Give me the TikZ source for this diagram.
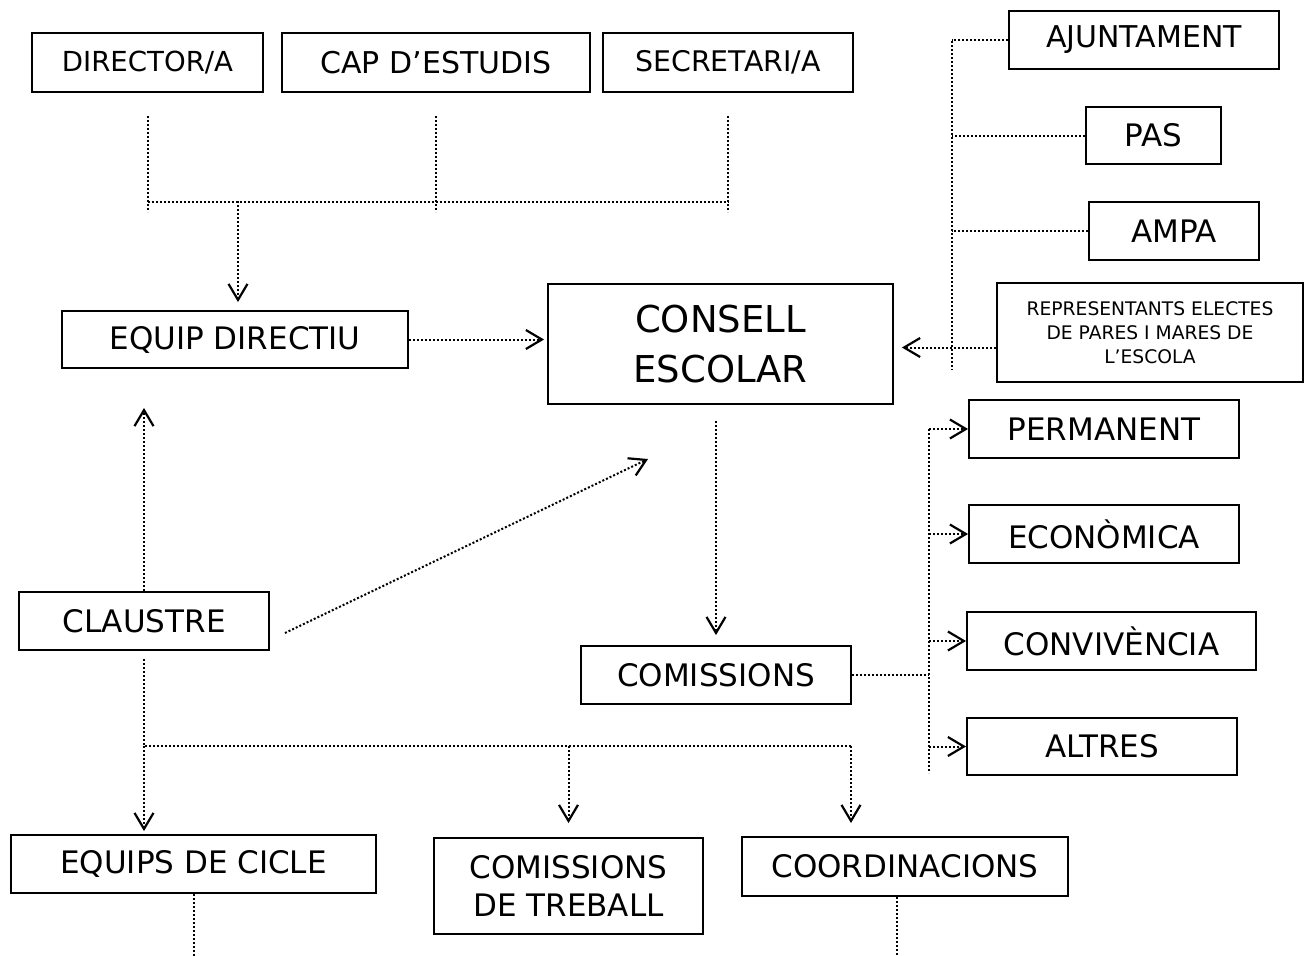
\documentclass[tikz,border=0pt]{standalone}
\usepackage{fontspec}
\setmainfont{DejaVu Sans}
\usetikzlibrary{arrows.meta,calc}
\tikzset{
  box/.style={draw, line width=1.9pt, inner sep=0pt, align=center, font=\fontsize{31}{38}\selectfont},
  link/.style={line width=2pt, dash pattern=on 2pt off 2pt},
  arr/.style={link, -{Straight Barb[length=16pt,width=19pt,line width=2.2pt]}},
}

\begin{document}
\begin{tikzpicture}[x=1pt,y=-1pt]
  \useasboundingbox (0,0) rectangle (1310,956);
  \node[box,minimum width=231,minimum height=59,font=\fontsize{27.6}{32}\selectfont] (dir) at (147.5,62.5) {DIRECTOR/A};
  \node[box,minimum width=308,minimum height=59,font=\fontsize{30}{32}\selectfont] (cap) at (436,62.5) {CAP D’ESTUDIS};
  \node[box,minimum width=250,minimum height=59,font=\fontsize{28.4}{32}\selectfont] (sec) at (728,62.5) {SECRETARI/A};
  \node[box,minimum width=346,minimum height=57] (eqd) at (235,339.5) {EQUIP DIRECTIU};
  \node[box,minimum width=345,minimum height=120,font=\fontsize{37}{50}\selectfont] (cons) at (720.5,344) {CONSELL\\ESCOLAR};
  \node[box,minimum width=270,minimum height=58,font=\fontsize{30}{38}\selectfont] (ajt) at (1144,40) {AJUNTAMENT};
  \node[box,minimum width=135,minimum height=57] (pas) at (1153.5,135.5) {PAS};
  \node[box,minimum width=170,minimum height=58] (ampa) at (1174,231) {AMPA};
  \node[box,minimum width=306,minimum height=99,font=\fontsize{18.7}{24}\selectfont] (rep) at (1150,332.5) {REPRESENTANTS ELECTES\\DE PARES I MARES DE\\L’ESCOLA};
  \node[box,minimum width=270,minimum height=58] (perm) at (1104,429) {PERMANENT};
  \node[box,minimum width=270,minimum height=58] (econ) at (1104,534) {ECONÒMICA};
  \node[box,minimum width=289,minimum height=58] (conv) at (1111.5,641) {CONVIVÈNCIA};
  \node[box,minimum width=270,minimum height=57] (altr) at (1102,746.5) {ALTRES};
  \node[box,minimum width=270,minimum height=58] (com) at (716,675) {COMISSIONS};
  \node[box,minimum width=250,minimum height=58] (clau) at (144,621) {CLAUSTRE};
  \node[box,minimum width=365,minimum height=58] (eqc) at (193.5,864) {EQUIPS DE CICLE};
  \node[box,minimum width=269,minimum height=96] (ctr) at (568.5,886) {COMISSIONS\\DE TREBALL};
  \node[box,minimum width=326,minimum height=59] (coord) at (905,866.5) {COORDINACIONS};

  \coordinate (tb) at (238,201);
  \coordinate (rbt) at (952,41);
  \coordinate (rbb) at (952,370);
  \coordinate (cb) at (929,672);
  \coordinate (dg) at (648,459);
  \coordinate (bb) at (146,746);
  \coordinate (bbe) at (851,746);
  \coordinate (rp) at ($(rep.west)+(0,15)$);

  \foreach \n in {dir,cap,sec}
    \draw[link] ([yshift=-23pt]\n.south) -- ([yshift=-119pt]\n.south);
  \draw[link] ([yshift=-109pt]dir.south) -- ([yshift=-109pt]sec.south);
  \draw[arr,shorten >=8pt] (tb) -- (tb |- eqd.north);
  \draw[arr,shorten >=3pt] (eqd.east) -- (eqd.east -| cons.west);

  \draw[link] (rbt) -- (rbb);
  \foreach \n in {ajt,pas,ampa}
    \draw[link] (\n.west) -- (\n.west -| rbt);
  \draw[arr,shorten >=8pt] (rp) -- (rp -| cons.east);

  \draw[arr,shorten <=16pt,shorten >=10pt] (com.north |- cons.south) -- (com.north);
  \draw[link] (com.east) -- (com.east -| cb);
  \draw[link] (perm.west -| cb) -- (cb |- 0,773);
  \foreach \n in {perm,econ,conv,altr}
    \draw[arr] (\n.west -| cb) -- (\n.west);

  \draw[arr,shorten >=39pt] (clau.north) -- (clau.north |- eqd.south);
  \draw[arr] ($(clau.east)+(15,12)$) -- (dg);
  \draw[link] ([yshift=-8pt]clau.south) -- (clau.south |- bb) -- (bbe);
  \draw[arr,shorten >=3pt] (clau.south |- bb) -- (clau.south |- eqc.north);
  \draw[arr,shorten >=14pt] (bb -| ctr.north) -- (ctr.north);
  \draw[arr,shorten >=13pt] (bbe) -- (bbe |- coord.north);

  \draw[link] (eqc.south) -- (eqc.south |- 0,956);
  \draw[link] ([xshift=-8pt]coord.south) -- ([xshift=-8pt]coord.south |- 0,956);
\end{tikzpicture}
\end{document}
